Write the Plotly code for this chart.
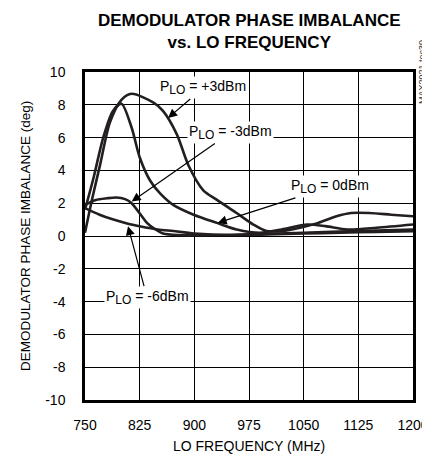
import plotly.graph_objects as go

freq_p3 = [750, 760, 771, 784, 800, 814, 844, 857, 876, 892, 912, 931, 958, 981, 999, 1020, 1045, 1070, 1095, 1115, 1140, 1170, 1200]
val_p3 = [0.2, 2.3, 4.4, 6.9, 8.3, 8.67, 8.13, 7.63, 6.2, 4.3, 2.8, 2.2, 1.4, 0.7, 0.3, 0.3, 0.5, 0.8, 1.2, 1.4, 1.4, 1.3, 1.2]

freq_0 = [750, 762, 775, 788, 800, 814, 825, 839, 853, 871, 899, 931, 958, 990, 1020, 1055, 1080, 1110, 1150, 1200]
val_0 = [1.6, 3.6, 6.0, 7.6, 8.07, 6.6, 4.8, 3.4, 2.6, 1.9, 1.3, 0.8, 0.4, 0.2, 0.4, 0.7, 0.6, 0.4, 0.5, 0.7]

freq_m3 = [750, 765, 780, 793, 805, 814, 835, 845, 857, 880, 920, 975, 1050, 1125, 1200]
val_m3 = [1.9, 2.2, 2.3, 2.35, 2.25, 2.0, 0.8, 0.45, 0.15, 0.05, 0.05, 0.1, 0.2, 0.3, 0.4]

freq_m6 = [750, 770, 789, 809, 825, 850, 871, 900, 950, 1000, 1050, 1100, 1150, 1200]
val_m6 = [1.7, 1.3, 1.0, 0.75, 0.6, 0.4, 0.3, 0.15, 0.05, 0.1, 0.15, 0.2, 0.25, 0.3]

x_ticks = [750, 825, 900, 975, 1050, 1125, 1200]
y_ticks = [-10, -8, -6, -4, -2, 0, 2, 4, 6, 8, 10]

LINE = "#231f20"
FONT = "Liberation Sans, Arial, sans-serif"

fig = go.Figure()
for fx, fy in [(freq_p3, val_p3), (freq_0, val_0), (freq_m3, val_m3), (freq_m6, val_m6)]:
    fig.add_trace(go.Scatter(x=fx, y=fy, mode="lines",
                             line=dict(color=LINE, width=2.6, shape="spline", smoothing=0.8),
                             showlegend=False, hoverinfo="skip"))

SUB = "P<sub><span style='font-size:12px'>LO</span></sub>"

def ann(text, x, y, ax, ay):
    fig.add_annotation(x=x, y=y, ax=ax, ay=ay, axref="pixel", ayref="pixel",
                       text=text, showarrow=True, arrowhead=2, arrowsize=1.5,
                       arrowwidth=1.2, arrowcolor="black", bgcolor="white",
                       font=dict(family=FONT, size=14, color="black"),
                       borderpad=1)

ann(SUB + " = +3dBm", 864, 7.2, 35, -30)
ann(SUB + " = -3dBm", 814, 2.1, 99, -69)
ann(SUB + " = 0dBm", 932, 0.8, 112, -36)
ann(SUB + " = -6dBm", 809, 0.6, 19, 71)

# chart title
fig.add_annotation(x=0.5, xref="paper", xanchor="center",
                   y=1.0, yref="paper", yanchor="bottom", yshift=18,
                   text="<b>DEMODULATOR PHASE IMBALANCE<br>vs. LO FREQUENCY</b>",
                   showarrow=False, font=dict(family=FONT, size=17, color="black"))

# axis titles
fig.add_annotation(x=0.5, xref="paper", xanchor="center",
                   y=0.0, yref="paper", yanchor="middle", yshift=-46,
                   text="LO FREQUENCY (MHz)", showarrow=False,
                   font=dict(family=FONT, size=14, color="black"))
fig.add_annotation(x=0.0, xref="paper", xanchor="center", xshift=-60,
                   y=0.5, yref="paper", yanchor="middle",
                   text="DEMODULATOR PHASE IMBALANCE (deg)", textangle=-90, showarrow=False,
                   font=dict(family=FONT, size=13.5, color="black"))

fig.add_annotation(x=1.0, xref="paper", xanchor="center", xshift=9,
                   y=1.0, yref="paper", yanchor="middle",
                   text="MAX2021 toc30", textangle=-90, showarrow=False,
                   font=dict(family=FONT, size=9, color="#333"))

# page body has an 8px margin, so the figure is 8px smaller than the window
fig.update_layout(
    width=422, height=450,
    margin=dict(l=77, r=17, t=64, b=58, autoexpand=False),
    paper_bgcolor="white", plot_bgcolor="white",
    font=dict(family=FONT, size=14, color="black"),
)
fig.update_xaxes(range=[750, 1200], tickvals=x_ticks, ticktext=[str(v) for v in x_ticks],
                 showgrid=True, gridcolor="black", gridwidth=1, zeroline=False,
                 showline=True, linecolor="black", linewidth=2.5, mirror=True,
                 ticks="", ticklabelstandoff=10, automargin=False,
                 tickfont=dict(family=FONT, size=14, color="black"))
fig.update_yaxes(range=[-10, 10], tickvals=y_ticks, ticktext=[str(v) for v in y_ticks],
                 showgrid=True, gridcolor="black", gridwidth=1, zeroline=False,
                 showline=True, linecolor="black", linewidth=2.5, mirror=True,
                 ticks="", ticklabelstandoff=14, automargin=False,
                 tickfont=dict(family=FONT, size=14, color="black"))

fig.write_html("out.html")
